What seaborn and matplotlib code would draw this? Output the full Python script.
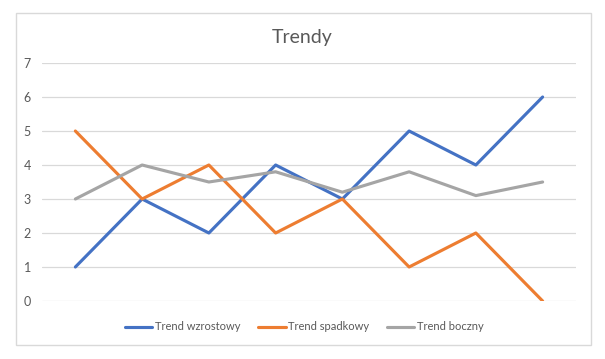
import matplotlib
matplotlib.use("agg")
import matplotlib.pyplot as plt
import pandas as pd
import seaborn as sns

points = list(range(1, 9))
wzrostowy = [1, 3, 2, 4, 3, 5, 4, 6]
spadkowy = [5, 3, 4, 2, 3, 1, 2, 0]
boczny = [3, 4, 3.5, 3.8, 3.2, 3.8, 3.1, 3.5]
series_names = ["Trend wzrostowy", "Trend spadkowy", "Trend boczny"]
y_ticks = [0, 1, 2, 3, 4, 5, 6, 7]

BLUE, ORANGE, GRAY = "#4472c4", "#ed7d31", "#a5a5a5"
TEXT = "#595959"

sns.set_theme(style="white")
plt.rcParams["font.family"] = ["Lato", "DejaVu Sans"]

df = pd.DataFrame({"x": points * 3,
                   "value": wzrostowy + spadkowy + boczny,
                   "series": [s for s in series_names for _ in points]})

fig = plt.figure(figsize=(6.05, 3.59), dpi=100)
ax = fig.add_axes([42 / 605, 1 - 301 / 359, 534 / 605, 238 / 359])

sns.lineplot(df, x="x", y="value", hue="series", hue_order=series_names,
             palette=dict(zip(series_names, [BLUE, ORANGE, GRAY])),
             linewidth=2.25, ax=ax, legend=False)

ax.set_xlim(0.5, 8.5)
ax.set_ylim(0, 7)
ax.set_yticks(y_ticks)
ax.set_xticks([])
ax.set_xlabel("")
ax.set_ylabel("")
ax.yaxis.grid(True, color="#d9d9d9", linewidth=0.9)
ax.set_axisbelow(True)
for s in ax.spines.values():
    s.set_visible(False)
ax.tick_params(axis="y", length=0, pad=8, labelsize=9, labelcolor=TEXT)

fig.text(0.5, 1 - 37 / 359, "Trendy", ha="center", va="center",
         fontsize=14, color=TEXT)

handles = [plt.Line2D([], [], color=c, linewidth=2.25) for c in (BLUE, ORANGE, GRAY)]
fig.legend(handles, series_names, loc="center", bbox_to_anchor=(304 / 605, 1 - 327 / 359),
           ncol=3, frameon=False, fontsize=8, labelcolor=TEXT,
           handlelength=2.5, handletextpad=0.2, columnspacing=1.6)

fig.patches.append(plt.Rectangle((16 / 605, 1 - 345 / 359), 575 / 605, 332 / 359,
                                 transform=fig.transFigure, fill=False,
                                 edgecolor="#d9d9d9", linewidth=1))

fig.savefig("out.png", dpi=100, facecolor="white")
